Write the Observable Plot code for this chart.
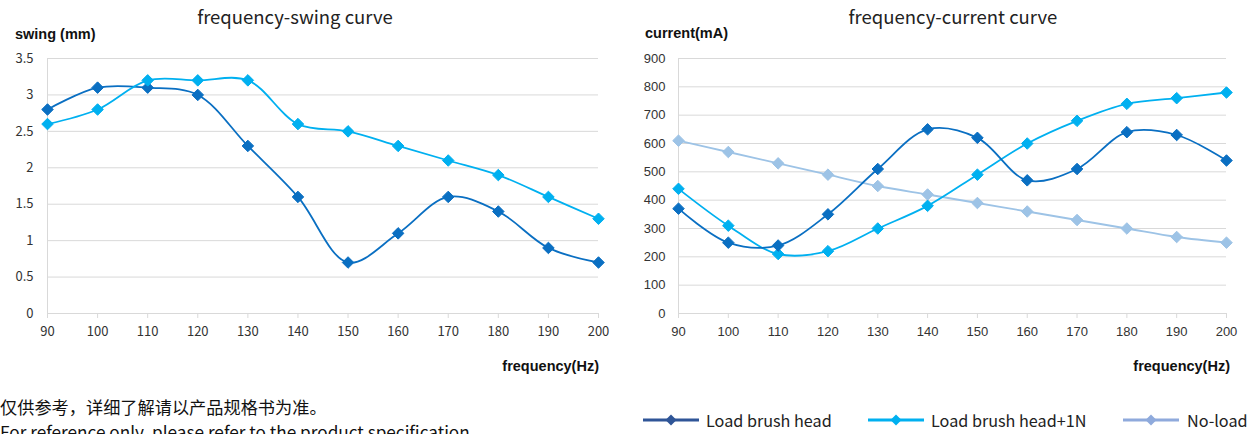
<!DOCTYPE html>
<html>
<head>
<meta charset="utf-8">
<script src="https://cdn.jsdelivr.net/npm/d3@7"></script>
<script src="https://cdn.jsdelivr.net/npm/@observablehq/plot@0.6"></script>
<style>
  html, body { margin: 0; padding: 0; background: #fff; }
  #root { position: relative; width: 1253px; height: 434px; overflow: hidden; background: #fff; }
  .abs { position: absolute; white-space: nowrap; }
  .title { font-family: "Noto Sans CJK SC", "Noto Sans", sans-serif; font-size: 18.5px; color: #222; line-height: 22px; }
  .albl { font-family: "Liberation Sans", Arial, sans-serif; font-weight: bold; font-size: 14.5px; color: #111; line-height: 16px; }
  .foot { font-family: "Noto Sans CJK SC", "Noto Sans", sans-serif; font-size: 17.2px; color: #111; line-height: 18px; }
  .leg { font-family: "Noto Sans CJK SC", "Noto Sans", sans-serif; font-size: 16.2px; color: #222; line-height: 20px; }
  svg.plot { position: absolute; top: 0; }
</style>
</head>
<body>
<div id="root"></div>
<script>
const freq = [90, 100, 110, 120, 130, 140, 150, 160, 170, 180, 190, 200];
const swingLoad = [2.8, 3.1, 3.1, 3.0, 2.3, 1.6, 0.7, 1.1, 1.6, 1.4, 0.9, 0.7];
const swingLoad1N = [2.6, 2.8, 3.2, 3.2, 3.2, 2.6, 2.5, 2.3, 2.1, 1.9, 1.6, 1.3];
const currentLoad = [370, 250, 240, 350, 510, 650, 620, 470, 510, 640, 630, 540];
const currentLoad1N = [440, 310, 210, 220, 300, 380, 490, 600, 680, 740, 760, 780];
const currentNoLoad = [610, 570, 530, 490, 450, 420, 390, 360, 330, 300, 270, 250];
const swingTicks = [0, 0.5, 1, 1.5, 2, 2.5, 3, 3.5];
const currentTicks = [0, 100, 200, 300, 400, 500, 600, 700, 800, 900];
const seriesNames = ["Load brush head", "Load brush head+1N", "No-load"];
const seriesColors = ["#0a6fc2", "#00b0f0", "#9dc3e6"];
const legendColors = ["#2f5597", "#00b0f0", "#8faadc"];

const root = document.getElementById("root");

function rows(values, name) {
  return freq.map((f, i) => ({freq: f, value: values[i], series: name}));
}

function makeChart(opts) {
  const marks = [
    Plot.gridY(opts.yTicks.filter(d => d > 0), {stroke: "#d9d9d9", strokeOpacity: 1, strokeWidth: 1}),
    Plot.ruleX([90], {stroke: "#d9d9d9", strokeWidth: 1}),
    Plot.ruleY([0], {stroke: "#d9d9d9", strokeWidth: 1}),
    Plot.axisX({ticks: freq, tickSize: 5, tickPadding: 8, stroke: "#d9d9d9", fill: "#333", tickFormat: d => String(d)}),
    Plot.axisY({ticks: opts.yTicks, tickSize: 0, tickPadding: opts.yPad, fill: "#333", tickFormat: d => String(d)})
  ];
  opts.series.forEach((s) => {
    const data = rows(s.values, s.name);
    marks.push(Plot.line(data, {x: "freq", y: "value", stroke: s.color, strokeWidth: 1.8, curve: "catmull-rom"}));
    marks.push(Plot.dot(data, {x: "freq", y: "value", symbol: "diamond2", r: 5.2, fill: s.color, stroke: s.color, strokeWidth: 1}));
  });
  const svg = Plot.plot({
    width: opts.width,
    height: 390,
    marginTop: 58,
    marginBottom: 77,
    marginLeft: opts.marginLeft,
    marginRight: opts.marginRight,
    x: {domain: [90, 200], label: null},
    y: {domain: opts.yDomain, label: null},
    style: {fontFamily: opts.font, fontSize: "13px", background: "transparent", overflow: "visible"},
    marks
  });
  svg.classList.add("plot");
  svg.style.left = opts.left + "px";
  root.appendChild(svg);
}

makeChart({
  left: 0, width: 626, marginLeft: 47, marginRight: 28,
  yDomain: [0, 3.5], yTicks: swingTicks, yPad: 14,
  font: '"Noto Sans CJK SC", "Noto Sans", sans-serif',
  series: [
    {name: seriesNames[0], values: swingLoad, color: seriesColors[0]},
    {name: seriesNames[1], values: swingLoad1N, color: seriesColors[1]}
  ]
});

makeChart({
  left: 626, width: 627, marginLeft: 52, marginRight: 27,
  yDomain: [0, 900], yTicks: currentTicks, yPad: 13,
  font: '"Liberation Sans", Arial, sans-serif',
  series: [
    {name: seriesNames[2], values: currentNoLoad, color: seriesColors[2]},
    {name: seriesNames[1], values: currentLoad1N, color: seriesColors[1]},
    {name: seriesNames[0], values: currentLoad, color: seriesColors[0]}
  ]
});

function addText(cls, text, x, yCenter, align, lh) {
  const d = document.createElement("div");
  d.className = "abs " + cls;
  d.textContent = text;
  d.style.top = (yCenter - lh / 2) + "px";
  if (align === "center") { d.style.left = (x - 300) + "px"; d.style.width = "600px"; d.style.textAlign = "center"; }
  else if (align === "right") { d.style.left = (x - 300) + "px"; d.style.width = "300px"; d.style.textAlign = "right"; }
  else { d.style.left = x + "px"; }
  root.appendChild(d);
}

addText("title", "frequency-swing curve", 295, 16, "center", 22);
addText("title", "frequency-current curve", 953, 16, "center", 22);
addText("albl", "swing (mm)", 15, 34, "left", 16);
addText("albl", "current(mA)", 645, 33, "left", 16);
addText("albl", "frequency(Hz)", 599, 366, "right", 16);
addText("albl", "frequency(Hz)", 1230, 366, "right", 16);
addText("foot", "仅供参考，详细了解请以产品规格书为准。", 0, 407, "left", 18);
addText("foot", "For reference only, please refer to the product specification.", 0, 432, "left", 18);

// legend
const legendPos = [{x: 643, tx: 706}, {x: 868, tx: 931}, {x: 1123, tx: 1187}];
seriesNames.forEach((name, i) => {
  const p = legendPos[i];
  const s = document.createElementNS("http://www.w3.org/2000/svg", "svg");
  s.setAttribute("width", 56); s.setAttribute("height", 16);
  s.style.position = "absolute"; s.style.left = p.x + "px"; s.style.top = (420 - 8) + "px";
  s.innerHTML = `<line x1="0" y1="8" x2="56" y2="8" stroke="${legendColors[i]}" stroke-width="3"/>` +
    `<path d="M28,2.5L33.5,8L28,13.5L22.5,8Z" fill="${legendColors[i]}"/>`;
  root.appendChild(s);
  addText("leg", name, p.tx, 420, "left", 20);
});
</script>
</body>
</html>
